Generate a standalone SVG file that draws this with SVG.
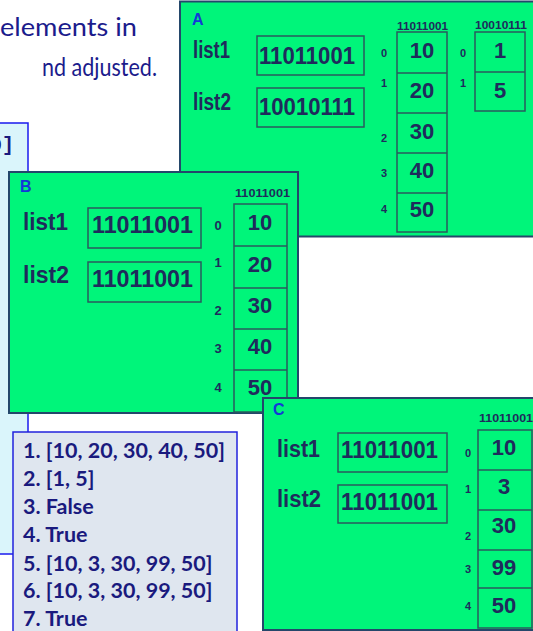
<svg xmlns="http://www.w3.org/2000/svg" width="533" height="631" viewBox="0 0 533 631">
<style>
.cap{font-family:Lato,"Liberation Sans",sans-serif;font-size:25px;fill:#1b1b8c}
.ans{font-family:Lato,"Liberation Sans",sans-serif;font-size:21.5px;font-weight:bold;fill:#1a1a7e}
.panel{fill:#00f57a;stroke:#24476b;stroke-width:2}
.cell{fill:none;stroke:#2a5a5e;stroke-width:1.5}
.t{font-family:"Liberation Sans",Arial,sans-serif;font-weight:bold;fill:#1f2b5c}
.lbl{font-size:23px}
.addr{font-size:24px}
.val{font-size:22px;text-anchor:middle}
.idx{font-size:11px;text-anchor:middle}
.small{font-size:10px}
.pl{font-family:"Liberation Sans",Arial,sans-serif;font-weight:bold;font-size:16px;fill:#1438d8}
</style>
<rect width="533" height="631" fill="#ffffff"/>
<g id="caption">
<text class="cap" x="0" y="36" textLength="137" lengthAdjust="spacingAndGlyphs">elements in</text>
<text class="cap" x="42" y="76" textLength="115" lengthAdjust="spacingAndGlyphs">nd adjusted.</text>
</g>
<g id="notes-box">
<rect x="-5" y="123" width="33" height="431" fill="#daf5fb" stroke="#1a1aee" stroke-width="1.5"/>
<text x="14" y="151" text-anchor="end" style="font-family:'Liberation Mono',monospace;font-size:20px;font-weight:bold;fill:#1a1a7e">0]</text>
</g>
<g id="panel-A">
<rect class="panel" x="180" y="1.5" width="360" height="235"/>
<text class="pl" x="192" y="25">A</text>
<text class="t lbl" x="193" y="58" textLength="37" lengthAdjust="spacingAndGlyphs">list1</text>
<text class="t lbl" x="193" y="110" textLength="38" lengthAdjust="spacingAndGlyphs">list2</text>
<rect class="cell" x="257" y="36" width="107" height="39"/>
<rect class="cell" x="257" y="88" width="107" height="39"/>
<text class="t addr" x="259" y="64" textLength="96" lengthAdjust="spacingAndGlyphs">11011001</text>
<text class="t addr" x="259" y="115" textLength="96" lengthAdjust="spacingAndGlyphs">10010111</text>
<text class="t small" x="397" y="30" textLength="51" lengthAdjust="spacingAndGlyphs">11011001</text>
<rect class="cell" x="397" y="32" width="50" height="200"/>
<path class="cell" d="M397 73H447M397 113H447M397 153H447M397 193H447"/>
<text class="t val" x="422" y="58">10</text>
<text class="t val" x="422" y="98">20</text>
<text class="t val" x="422" y="139">30</text>
<text class="t val" x="422" y="178">40</text>
<text class="t val" x="422" y="217">50</text>
<text class="t idx" x="384" y="57">0</text>
<text class="t idx" x="384" y="87">1</text>
<text class="t idx" x="384" y="142">2</text>
<text class="t idx" x="384" y="177">3</text>
<text class="t idx" x="384" y="213">4</text>
<text class="t small" x="475" y="29" textLength="52" lengthAdjust="spacingAndGlyphs">10010111</text>
<rect class="cell" x="475" y="32" width="50" height="79"/>
<path class="cell" d="M475 72H525"/>
<text class="t val" x="500" y="58">1</text>
<text class="t val" x="500" y="98">5</text>
<text class="t idx" x="463" y="57">0</text>
<text class="t idx" x="463" y="87">1</text>
</g>
<g id="panel-B">
<rect class="panel" x="9" y="172" width="289" height="241"/>
<text class="pl" x="20" y="192">B</text>
<text class="t lbl" x="23" y="230" textLength="45" lengthAdjust="spacingAndGlyphs">list1</text>
<text class="t lbl" x="23" y="283" textLength="46" lengthAdjust="spacingAndGlyphs">list2</text>
<rect class="cell" x="88" y="208" width="113" height="40"/>
<rect class="cell" x="88" y="262" width="113" height="40"/>
<text class="t addr" x="92" y="233" textLength="101" lengthAdjust="spacingAndGlyphs">11011001</text>
<text class="t addr" x="92" y="287" textLength="101" lengthAdjust="spacingAndGlyphs">11011001</text>
<text class="t small" x="235" y="197" textLength="55" lengthAdjust="spacingAndGlyphs" style="font-size:11px">11011001</text>
<rect class="cell" x="234" y="204" width="53" height="208"/>
<path class="cell" d="M234 246H287M234 288H287M234 329H287M234 370H287"/>
<text class="t val" x="260" y="230">10</text>
<text class="t val" x="260" y="272">20</text>
<text class="t val" x="260" y="313">30</text>
<text class="t val" x="260" y="354">40</text>
<text class="t val" x="260" y="395">50</text>
<text class="t idx" x="218" y="230" style="font-size:13px">0</text>
<text class="t idx" x="218" y="267" style="font-size:13px">1</text>
<text class="t idx" x="218" y="315" style="font-size:13px">2</text>
<text class="t idx" x="218" y="353" style="font-size:13px">3</text>
<text class="t idx" x="218" y="392" style="font-size:13px">4</text>
</g>
<g id="answers">
<rect x="13" y="432" width="224" height="210" fill="#dfe6ef" stroke="#2222dd" stroke-width="1.5"/>
<text class="ans" x="23" y="458">1. [10, 20, 30, 40, 50]</text>
<text class="ans" x="23" y="486">2. [1, 5]</text>
<text class="ans" x="23" y="514">3. False</text>
<text class="ans" x="23" y="542">4. True</text>
<text class="ans" x="23" y="571">5. [10, 3, 30, 99, 50]</text>
<text class="ans" x="23" y="598">6. [10, 3, 30, 99, 50]</text>
<text class="ans" x="23" y="626">7. True</text>
</g>
<g id="panel-C">
<rect class="panel" x="263" y="398" width="280" height="232"/>
<text class="pl" x="273" y="415">C</text>
<text class="t lbl" x="277" y="457" textLength="43" lengthAdjust="spacingAndGlyphs">list1</text>
<text class="t lbl" x="277" y="507" textLength="44" lengthAdjust="spacingAndGlyphs">list2</text>
<rect class="cell" x="338" y="433" width="109" height="39"/>
<rect class="cell" x="338" y="485" width="109" height="38"/>
<text class="t addr" x="341" y="458" textLength="97" lengthAdjust="spacingAndGlyphs">11011001</text>
<text class="t addr" x="341" y="510" textLength="97" lengthAdjust="spacingAndGlyphs">11011001</text>
<text class="t small" x="479" y="422" textLength="54" lengthAdjust="spacingAndGlyphs">11011001</text>
<rect class="cell" x="478" y="430" width="54" height="198"/>
<path class="cell" d="M478 470H532M478 510H532M478 550H532M478 588H532"/>
<text class="t val" x="504" y="455">10</text>
<text class="t val" x="504" y="494">3</text>
<text class="t val" x="504" y="533">30</text>
<text class="t val" x="504" y="575">99</text>
<text class="t val" x="504" y="613">50</text>
<text class="t idx" x="468" y="457">0</text>
<text class="t idx" x="468" y="493">1</text>
<text class="t idx" x="468" y="540">2</text>
<text class="t idx" x="468" y="573">3</text>
<text class="t idx" x="468" y="610">4</text>
</g>
</svg>
